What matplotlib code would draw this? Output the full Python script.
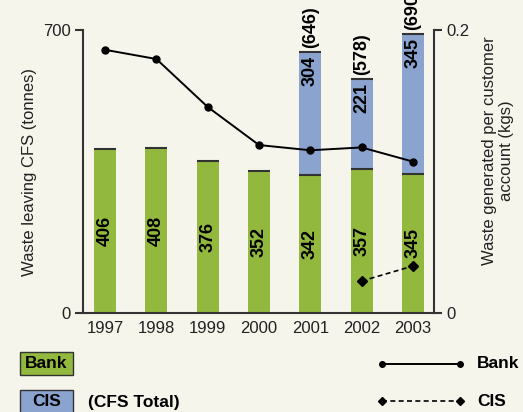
import numpy as np
import matplotlib.pyplot as plt
from matplotlib.lines import Line2D
from matplotlib.patches import Rectangle

# Data
years = ['1997', '1998', '1999', '2000', '2001', '2002', '2003']
bank_tonnes = [406, 408, 376, 352, 342, 357, 345]
cis_tonnes = [0, 0, 0, 0, 304, 221, 345]
bank_per_account = [0.186, 0.1795, 0.1456, 0.1187, 0.1150, 0.1170, 0.1070]
cis_years = ['2002', '2003']
cis_per_account = [0.0226, 0.0332]

bg = '#f5f5ec'
green = '#92b83e'
blue = '#8aa3cf'
dark = '#333333'

plt.rcParams['font.family'] = ['Liberation Sans', 'DejaVu Sans']

W, H = 523, 412
fig = plt.figure(figsize=(W / 100, H / 100), dpi=100, facecolor=bg)
ax = fig.add_axes([83 / W, 1 - 313 / H, 351 / W, 283 / H])
ax.set_facecolor(bg)

x = np.arange(len(years))
w = 0.43
bank = np.array(bank_tonnes)
cis = np.array(cis_tonnes)

ax.bar(x, bank, w, color=green, zorder=2)
ax.bar(x, cis, w, bottom=bank, color=blue, zorder=2)
ax.hlines(bank, x - w / 2, x + w / 2, color=dark, lw=1.5, zorder=3)
has_cis = cis > 0
ax.hlines((bank + cis)[has_cis], x[has_cis] - w / 2, x[has_cis] + w / 2,
          color=dark, lw=1.5, zorder=3)

for i in range(len(years)):
    ax.text(x[i], bank[i] / 2, str(bank[i]), rotation=90, ha='center',
            va='center', fontsize=13, fontweight='bold', zorder=4)
    if cis[i] > 0:
        top = bank[i] + cis[i]
        ax.annotate(str(cis[i]), (x[i], top), xytext=(0, -3),
                    textcoords='offset points', rotation=90, ha='center',
                    va='top', fontsize=13, fontweight='bold', zorder=4)
        ax.annotate('(%d)' % top, (x[i], top), xytext=(0, 3),
                    textcoords='offset points', rotation=90, ha='center',
                    va='bottom', fontsize=13, fontweight='bold', zorder=4,
                    annotation_clip=False)

ax.set_xlim(-0.43, 6.41)
ax.set_ylim(0, 700)
ax.set_yticks([0, 700])
ax.set_xticks(x)
ax.set_xticklabels(years)
ax.tick_params(axis='x', length=0, pad=6, labelsize=12, colors='#222222')
ax.tick_params(axis='y', length=6, width=1.5, color=dark, labelsize=12,
               labelcolor='#222222', pad=3)
for s in ['top', 'right']:
    ax.spines[s].set_visible(False)
for s in ['left', 'bottom']:
    ax.spines[s].set_color(dark)
    ax.spines[s].set_linewidth(1.5)
ax.set_ylabel('Waste leaving CFS (tonnes)', fontsize=12, color='#222222',
              labelpad=4)

ax2 = ax.twinx()
ax2.set_ylim(0, 0.2)
ax2.set_yticks([0, 0.2])
ax2.set_yticklabels(['0', '0.2'])
ax2.tick_params(axis='y', length=6, width=1.5, color=dark, labelsize=12,
                labelcolor='#222222', pad=3)
for s in ['top', 'left', 'bottom']:
    ax2.spines[s].set_visible(False)
ax2.spines['right'].set_color(dark)
ax2.spines['right'].set_linewidth(1.5)

ax2.plot(x, bank_per_account, color='black', lw=1.4, marker='o', ms=5,
         zorder=5)
cis_x = [years.index(y) for y in cis_years]
ax2.plot(cis_x, cis_per_account, color='black', lw=1.2, ls=(0, (3, 2)),
         marker='D', ms=5, zorder=5)

fig.text(498 / W, 1 - 151 / H, 'Waste generated per customer\naccount (kgs)',
         rotation=90, ha='center', va='center', multialignment='center',
         fontsize=12, color='#222222')

# Legend
fig.add_artist(Rectangle((20 / W, 1 - 375 / H), 53 / W, 23 / H,
                         transform=fig.transFigure, fc=green, ec=dark, lw=1))
fig.add_artist(Rectangle((20 / W, 1 - 414 / H), 53 / W, 24 / H,
                         transform=fig.transFigure, fc=blue, ec=dark, lw=1,
                         clip_on=False))
fig.text(46.5 / W, 1 - 363.5 / H, 'Bank', fontsize=12.5, fontweight='bold',
         va='center', ha='center')
fig.text(46.5 / W, 1 - 402 / H, 'CIS', fontsize=12.5, fontweight='bold',
         va='center', ha='center')
fig.text(88 / W, 1 - 402 / H, '(CFS Total)', fontsize=12.5,
         fontweight='bold', va='center', ha='left')

fig.add_artist(Line2D([382 / W, 460 / W], [1 - 364 / H, 1 - 364 / H],
                      transform=fig.transFigure, color='black', lw=1.4,
                      marker='o', ms=4))
fig.add_artist(Line2D([382 / W, 460 / W], [1 - 401 / H, 1 - 401 / H],
                      transform=fig.transFigure, color='black', lw=1.2,
                      ls=(0, (3, 2)), marker='D', ms=4))
fig.text(477 / W, 1 - 364 / H, 'Bank', fontsize=12.5, fontweight='bold',
         va='center', ha='left')
fig.text(477 / W, 1 - 401 / H, 'CIS', fontsize=12.5, fontweight='bold',
         va='center', ha='left')

fig.savefig('out.png', dpi=100, facecolor=bg)
